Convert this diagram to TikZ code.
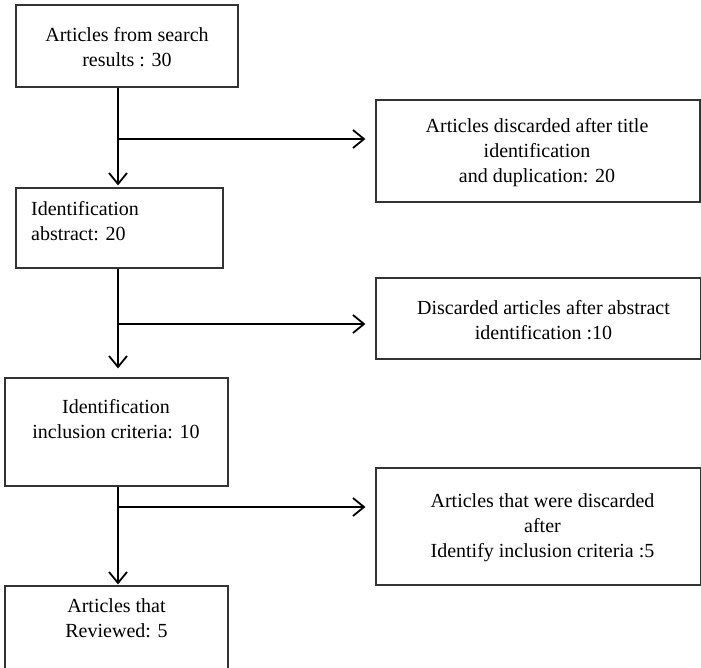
\documentclass[tikz,border=0pt]{standalone}
\usepackage{fontspec}
\setmainfont{Liberation Serif}
\usetikzlibrary{arrows.meta}
\begin{document}
\begin{tikzpicture}[x=1pt,y=-1pt,
  box/.style={draw=black!80, line width=1.2pt, inner sep=0pt},
  txt/.style={font=\fontsize{20}{25}\selectfont, align=center, inner sep=0pt},
  conn/.style={line width=1.8pt, -{Straight Barb[length=11pt,width=18pt]}},
  plainline/.style={line width=1.8pt}]
\useasboundingbox (0,0) rectangle (701,667);
% left boxes
\node[box, minimum width=222pt, minimum height=82pt] (b1) at (127,46) {};
\node[box, minimum width=207pt, minimum height=80pt] (b2) at (119.5,228) {};
\node[box, minimum width=223pt, minimum height=108pt] (b3) at (116.5,432) {};
\node[box, minimum width=223pt, minimum height=83pt] (b4) at (116.5,627.5) {};
% right boxes
\node[box, minimum width=324pt, minimum height=102pt] (r1) at (538,151) {};
\node[box, minimum width=325pt, minimum height=81pt] (r2) at (538.5,318.5) {};
\node[box, minimum width=325pt, minimum height=117pt] (r3) at (538.5,526.5) {};
% texts
\node[txt] (t1) at (127,47.5) {Articles from search\\results : 30};
\node[txt, align=left, anchor=west] (t2) at (31,221) {Identification\\abstract: 20};
\node[txt] (t3) at (116,419.5) {Identification\\inclusion criteria: 10};
\node[txt] (t4) at (116.5,618.5) {Articles that\\Reviewed: 5};
\node[txt] (r1t) at (537,153) {Articles discarded after title\\identification\\and duplication: 20};
\node[txt] (r2t) at (543.5,320) {Discarded articles after abstract\\identification :10};
\node[txt] (r3t) at (542.5,528) {Articles that were discarded\\after\\Identify inclusion criteria :5};
% junctions
\coordinate (j1) at (118,139);
\coordinate (j2) at (118,324);
\coordinate (j3) at (118,507);
% connectors
\draw[conn, shorten >=2pt] (b1.south -| j1) -- (b2.north -| j1);
\draw[conn, shorten >=10pt] (j1) -- (r1.west |- j1);
\draw[conn, shorten >=9pt] (b2.south -| j2) -- (b3.north -| j2);
\draw[conn, shorten >=10pt] (j2) -- (r2.west |- j2);
\draw[conn, shorten >=1pt] (b3.south -| j3) -- (b4.north -| j3);
\draw[conn, shorten >=10pt] (j3) -- (r3.west |- j3);
\end{tikzpicture}
\end{document}
